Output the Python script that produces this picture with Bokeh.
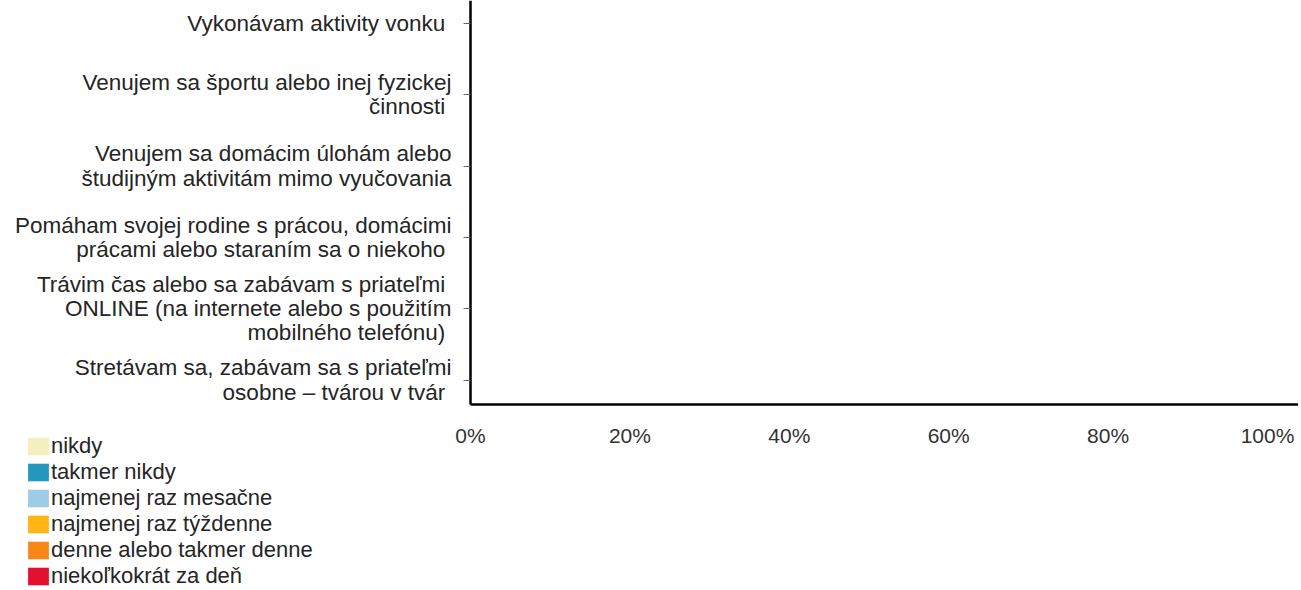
from bokeh.plotting import figure
from bokeh.models import ColumnDataSource, FixedTicker, Range1d
from bokeh.embed import file_html
from bokeh.resources import INLINE

# Categories, top to bottom
categories = [
    "Vykonávam  aktivity vonku",
    "Venujem sa športu alebo inej fyzickej\nčinnosti ",
    "Venujem sa domácim úlohám alebo\nštudijným aktivitám mimo vyučovania",
    "Pomáham svojej rodine s prácou, domácimi\nprácami alebo staraním sa o niekoho ",
    "Trávim čas alebo sa zabávam s priateľmi \nONLINE (na internete alebo s použitím\nmobilného telefónu) ",
    "Stretávam sa, zabávam sa s priateľmi\nosobne – tvárou v tvár ",
]

# Response categories (legend) and colours
series_labels = [
    "nikdy",
    "takmer nikdy",
    "najmenej raz mesačne",
    "najmenej raz týždenne",
    "denne alebo takmer denne",
    "niekoľkokrát za deň",
]
series_colors = ["#f3efbe", "#2596be", "#9ecbe6", "#fdb614", "#f8871a", "#e3102e"]

# Values (percent) - the reference shows no bars, all shares are empty
s_nikdy = [0, 0, 0, 0, 0, 0]
s_takmer_nikdy = [0, 0, 0, 0, 0, 0]
s_mesacne = [0, 0, 0, 0, 0, 0]
s_tyzdenne = [0, 0, 0, 0, 0, 0]
s_denne = [0, 0, 0, 0, 0, 0]
s_viackrat = [0, 0, 0, 0, 0, 0]

x_ticks = [0, 20, 40, 60, 80, 100]

ys = list(range(len(categories)))[::-1]
keys = ["s0", "s1", "s2", "s3", "s4", "s5"]
source = ColumnDataSource(dict(
    y=ys,
    s0=s_nikdy, s1=s_takmer_nikdy, s2=s_mesacne,
    s3=s_tyzdenne, s4=s_denne, s5=s_viackrat,
))

FONT = "Liberation Sans"
TXT = "#252525"

W, H = 1298, 590
# plot area: x 0..100 spans px 470..1267, categories 71.3 px apart
X0_PX, X_PER = 470.0, 7.97
Y_TOP_PX, Y_PER = 23.0, 71.3
n = len(categories)
y_bottom_axis = -(404 - (Y_TOP_PX + (n - 1) * Y_PER)) / Y_PER
y_top = (n - 1) + Y_TOP_PX / Y_PER
y_min = -(H - (Y_TOP_PX + (n - 1) * Y_PER)) / Y_PER
x_min = -X0_PX / X_PER
x_max = (W - X0_PX) / X_PER

p = figure(
    width=W, height=H,
    output_backend="svg", toolbar_location=None,
    x_range=Range1d(x_min, x_max),
    y_range=Range1d(y_min, y_top),
    min_border_left=0, min_border_right=0, min_border_top=0, min_border_bottom=0,
)
p.outline_line_color = None
p.xgrid.visible = False
p.ygrid.visible = False

p.hbar_stack(keys, y="y", height=0.6, color=series_colors, line_color=None,
             source=source, legend_label=series_labels)

# x axis (drawn at the bottom of the plot area)
xa = p.xaxis[0]
xa.fixed_location = y_bottom_axis
xa.bounds = (0, x_max)
xa.ticker = FixedTicker(ticks=x_ticks)
xa.major_label_overrides = {t: f"{t}%" for t in x_ticks}
xa.major_tick_out = 0
xa.major_tick_in = 0
xa.minor_tick_line_color = None
xa.axis_line_width = 2.5
xa.axis_line_color = "black"
xa.major_label_standoff = 19
xa.major_label_text_font = FONT
xa.major_label_text_font_size = "21px"
xa.major_label_text_color = "#333333"

# y axis (drawn at x = 0)
ya = p.yaxis[0]
ya.fixed_location = 0
ya.bounds = (y_bottom_axis, y_top)
ya.ticker = FixedTicker(ticks=ys)
ya.major_label_overrides = {y: c for y, c in zip(ys, categories)}
ya.major_tick_out = 7
ya.major_tick_in = 0
ya.major_tick_line_color = "#666666"
ya.minor_tick_line_color = None
ya.axis_line_width = 2.5
ya.axis_line_color = "black"
ya.major_label_standoff = 12
ya.major_label_text_font = FONT
ya.major_label_text_font_size = "22.5px"
ya.major_label_text_line_height = 0.97
ya.major_label_text_color = TXT
ya.major_label_text_align = "right"

# legend
lg = p.legend[0]
lg.location = (25, 1)
lg.orientation = "vertical"
lg.border_line_color = None
lg.background_fill_alpha = 0
lg.padding = 0
lg.margin = 0
lg.spacing = -1
lg.glyph_width = 26
lg.glyph_height = 22
lg.label_height = 22
lg.label_standoff = 0
lg.label_text_font = FONT
lg.label_text_font_size = "22px"
lg.label_text_line_height = 0.9
lg.label_text_color = TXT
lg.click_policy = "none"

open("out.html", "w").write(file_html(p, INLINE))
